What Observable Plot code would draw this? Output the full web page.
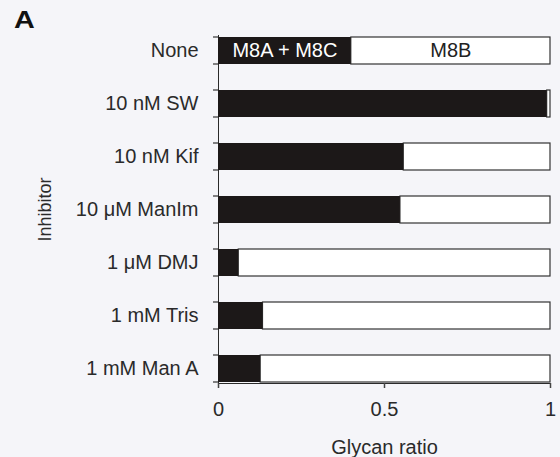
<!DOCTYPE html>
<html><head><meta charset="utf-8">
<script src="https://cdn.jsdelivr.net/npm/d3@7"></script>
<script src="https://cdn.jsdelivr.net/npm/@observablehq/plot@0.6"></script>
<style>
body{margin:0;background:#f5f5f9;}
#panel{font:bold 23px "Liberation Sans",Arial,sans-serif;color:#111;height:30px;line-height:30px;padding-left:14px;box-sizing:border-box;padding-top:5px;letter-spacing:0;}
#panel span{display:inline-block;transform:scaleX(1.25);transform-origin:left center;}
</style></head><body>
<div id="panel"><span>A</span></div>
<div id="chart"></div>
<script>
const inhibitors = ["None","10 nM SW","10 nM Kif","10 μM ManIm","1 μM DMJ","1 mM Tris","1 mM Man A"];
const m8acRatio = [0.40,0.99,0.558,0.548,0.061,0.134,0.127];
const segmentLabels = ["M8A + M8C","M8B"];
const xTicks = [0,0.5,1];
const xTickLabels = ["0","0.5","1"];
const xLabel = "Glycan ratio";
const yLabel = "Inhibitor";

const rows = inhibitors.map((name,i)=>({name, v:m8acRatio[i], total:1}));
const labelRow = rows.slice(0,1);

const W=560, H=427, ML=218, MR=10, MT=5, MB=74;
const plot = Plot.plot({
  width:W, height:H, marginLeft:ML, marginRight:MR, marginTop:MT, marginBottom:MB,
  style:{fontSize:"20px", fontFamily:"Liberation Sans, Arial, sans-serif", color:"#2a2a2a", background:"#f5f5f9", overflow:"visible"},
  x:{domain:[0,1], ticks:xTicks, tickFormat:(d)=>xTickLabels[xTicks.indexOf(d)], tickSize:5, tickPadding:13, line:true, label:xLabel, labelArrow:"none", labelAnchor:"center", labelOffset:70},
  y:{domain:inhibitors, paddingInner:0.5, paddingOuter:0, align:0.5, tickSize:0, tickPadding:20, line:true, label:yLabel, labelAnchor:"center", labelOffset:180},
  marks:[
    Plot.barX(rows,{y:"name", x1:"v", x2:"total", fill:"white", stroke:"#333", strokeWidth:1.2}),
    Plot.barX(rows,{y:"name", x1:0, x2:"v", fill:"#1c1818"}),
    Plot.text(labelRow,{y:"name", x:d=>d.v/2, text:()=>segmentLabels[0], fill:"white", fontSize:20}),
    Plot.text(labelRow,{y:"name", x:d=>(d.v+d.total)/2, text:()=>segmentLabels[1], fill:"#222", fontSize:20})
  ]
});
document.getElementById("chart").appendChild(plot);
const svgEl = plot.tagName.toLowerCase()==="svg" ? plot : plot.querySelector("svg");
const svg = d3.select(svgEl);
// tick marks at band edges on the y axis, positions from the library's y scale
const ys = plot.scale("y");
const g = svg.append("g").attr("stroke","#333").attr("stroke-width",1.2);
inhibitors.forEach(d=>{
  const y0 = ys.apply(d), y1 = y0 + ys.bandwidth;
  [y0,y1].forEach(y=>g.append("line").attr("x1",ML-5).attr("x2",ML).attr("y1",y).attr("y2",y));
});
svg.selectAll("[aria-label='x-axis'] path, [aria-label='y-axis'] path, [aria-label='x-axis tick'] path").attr("stroke","#444").attr("stroke-width",1.5);
// axis labels: plain text, y label slightly smaller
svg.selectAll("text").each(function(){
  const t = d3.select(this);
  const s = t.text();
  if (s.startsWith(xLabel)) t.text(xLabel);
  if (s.startsWith(yLabel) || s.endsWith(yLabel)) { t.text(yLabel); t.attr("font-size","18px"); }
});
</script>
</body></html>
